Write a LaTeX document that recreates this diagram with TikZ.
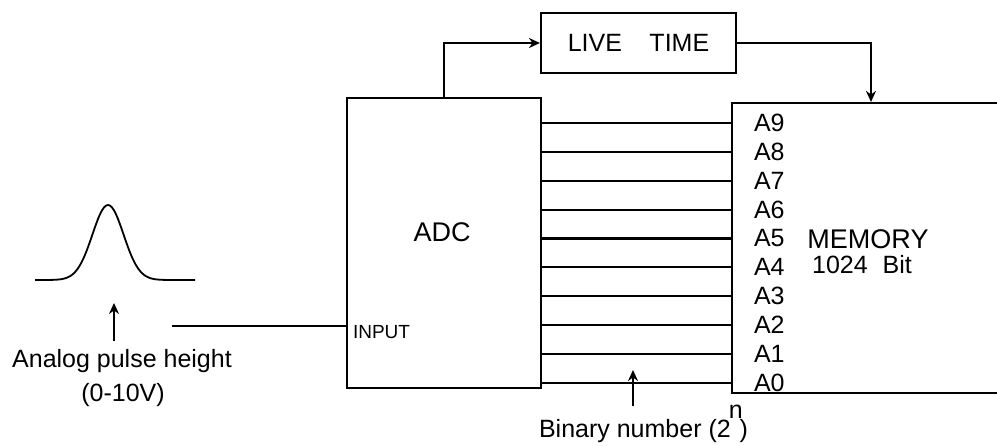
\documentclass[tikz,border=0pt]{standalone}
\usepackage{fontspec}
\setmainfont{Liberation Sans}
\usetikzlibrary{arrows.meta,calc}

\begin{document}
\begin{tikzpicture}[
x=1pt,y=-1pt,
line width=2.1pt,
box/.style={draw,inner sep=0pt},
txt/.style={inner sep=0pt,font=\fontsize{25}{30}\selectfont},
bigtxt/.style={inner sep=0pt,font=\fontsize{27}{32}\selectfont},
smalltxt/.style={inner sep=0pt,font=\fontsize{19}{23}\selectfont},
>={Stealth[length=11pt,width=10pt]}]
\useasboundingbox (0,0) rectangle (997,446);
\node[box,minimum width=194pt,minimum height=290pt] (adc) at (444,243) {};
\node[box,txt,minimum width=195pt,minimum height=60pt] (live) at (638.5,43) {LIVE\hspace{1.1em}TIME};
\node[box,minimum width=278pt,minimum height=290pt] (mem) at (871,248) {};
\node[bigtxt] (adclbl) at (442,232) {ADC};
\node[bigtxt] (memlbl) at (868,239) {MEMORY};
\node[txt] (bits) at (862,265) {1024\hspace{0.6em}Bit};
\node[smalltxt,anchor=west] (inlbl) at (352,332) {INPUT};
\foreach \i in {0,...,9}{
  \node[txt,anchor=west] (a\i) at (753,{383-28.9*\i}) {A\i};
  \draw (adc.east |- a\i) -- (mem.west |- a\i);
}
\draw[->] (adc.north) |- (live.west);
\draw[->] (live.east) -| (mem.north);
\coordinate (src) at (172,326);
\draw (src) -- (src -| adc.west);
\draw[line width=1.8pt] plot[domain=35:195,samples=80,smooth] (\x,{280-75*exp(-((\x-108)/22)^2)});
\coordinate (pulsetip) at (114,303);
\node[txt,anchor=base] (ana) at (122,368) {Analog pulse height};
\node[txt,anchor=base] (volt) at (123,402) {(0-10V)};
\draw[->] ($(pulsetip |- ana.north)+(0,-8)$) -- (pulsetip);
\coordinate (bintip) at (633,370);
\node[txt,anchor=base west] (bin) at (538,438) {Binary number (2\kern-2pt\raisebox{19pt}{n}\kern-3pt)};
\draw[->] ($(bintip |- bin.north)+(0,2)$) -- (bintip);
\end{tikzpicture}
\end{document}
